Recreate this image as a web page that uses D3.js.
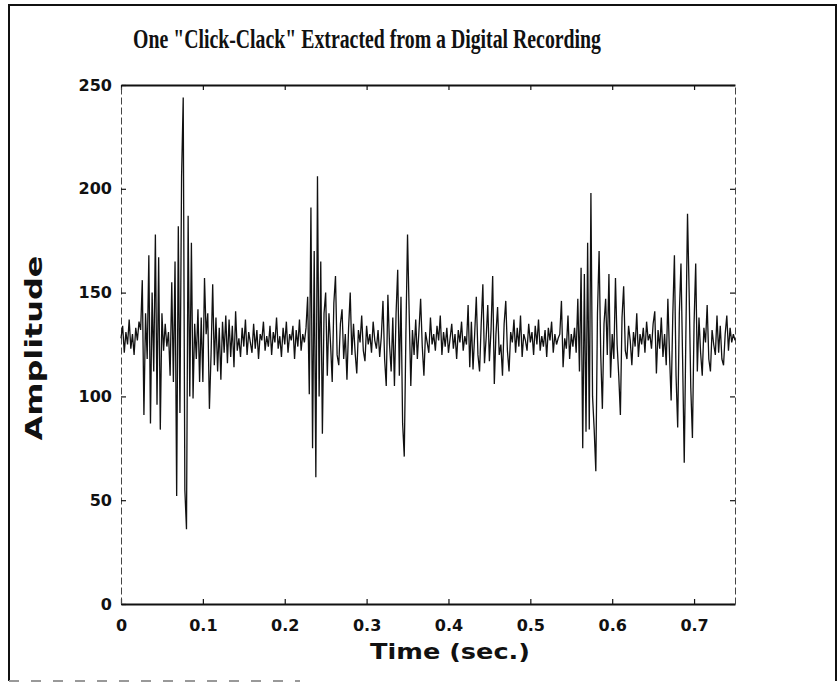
<!DOCTYPE html>
<html>
<head>
<meta charset="utf-8">
<script src="https://cdn.jsdelivr.net/npm/d3@7"></script>
<style>
  body { margin: 0; background: #fff; }
  .tick text { font-family: "DejaVu Sans", sans-serif; font-weight: bold; font-size: 16px; fill: #111; }
</style>
</head>
<body>
<div id="chart"></div>
<script>

// one sample every 2 ms
var sampleStep = 0.002;
var amplitude = [
  128,134,121,131,125,137,123,130,120,133,
  127,136,132,156,91,140,118,168,87,150,
  112,178,96,167,84,140,122,135,124,131,
  110,155,107,165,52,182,92,206,244,55,
  36,187,100,174,99,135,118,142,107,138,
  107,157,130,140,94,120,154,115,138,112,
  133,108,136,121,139,116,137,119,134,114,
  141,122,128,119,133,124,137,120,131,126,
  121,135,123,132,118,130,127,136,122,129,
  124,134,120,131,126,138,123,129,119,133,
  125,136,121,130,127,134,118,132,124,137,
  122,130,126,133,148,101,191,75,170,61,
  206,100,165,82,140,150,110,140,125,107,
  145,158,120,115,135,142,118,130,108,133,
  150,120,135,121,111,132,126,139,122,117,
  134,125,130,121,136,127,123,132,119,129,
  146,118,105,149,125,112,138,105,140,161,
  110,148,87,71,130,178,140,105,132,120,
  137,118,132,147,124,110,131,126,121,138,
  125,130,122,134,127,139,120,131,124,133,
  121,128,135,123,130,118,132,126,136,122,
  129,125,144,114,136,113,130,148,120,112,
  135,154,116,128,144,117,132,158,106,130,
  143,120,125,110,135,146,122,112,131,126,
  137,121,133,124,139,119,130,127,122,135,
  126,131,120,134,125,137,122,129,124,132,
  119,133,127,136,121,130,125,128,130,146,
  114,128,123,139,118,130,124,133,121,147,
  112,162,75,159,83,174,84,198,100,84,
  64,140,170,120,94,135,147,120,159,109,
  130,118,157,125,110,91,138,153,122,118,
  134,127,115,131,124,140,119,130,125,133,
  121,136,127,130,123,135,141,111,132,123,
  138,119,130,115,147,120,98,139,168,110,
  85,140,164,118,68,130,188,150,104,80,
  135,164,112,138,121,110,133,126,144,118,
  112,132,125,120,139,121,134,118,115,130,
  139,122,133,126,130,127
];

var xTicks = [0, 0.1, 0.2, 0.3, 0.4, 0.5, 0.6, 0.7];
var yTicks = [0, 50, 100, 150, 200, 250];

var titleText = 'One "Click-Clack" Extracted from a Digital Recording';
var xLabel = 'Time (sec.)';
var yLabel = 'Amplitude';

var width = 839, height = 683;

var svg = d3.select('#chart').append('svg')
            .attr('width', width)
            .attr('height', height);

// outer frame of the scanned figure
svg.append('path')
   .attr('d', 'M9,681 L9,5 L836,5 L836,681')
   .attr('fill', 'none')
   .attr('stroke', '#111')
   .attr('stroke-width', 2);
svg.append('line')
   .attr('x1', 9).attr('x2', 300).attr('y1', 681).attr('y2', 681)
   .attr('stroke', '#999')
   .attr('stroke-width', 2)
   .attr('stroke-dasharray', '10,12');

var x = d3.scaleLinear().domain([0, 0.75]).range([121, 735]);
var y = d3.scaleLinear().domain([0, 250]).range([604, 85]);

var fmtX = function(d){ return d === 0 ? '0' : d3.format('.1f')(d); };

// axes: ticks point into the plot
var gBottom = svg.append('g').attr('transform', 'translate(0,' + y(0) + ')')
  .call(d3.axisBottom(x).tickValues(xTicks).tickFormat(fmtX).tickSizeInner(-5).tickSizeOuter(0).tickPadding(16));
var gTop = svg.append('g').attr('transform', 'translate(0,' + y(250) + ')')
  .call(d3.axisTop(x).tickValues(xTicks).tickFormat('').tickSizeInner(-5).tickSizeOuter(0));
var gLeft = svg.append('g').attr('transform', 'translate(' + x(0) + ',0)')
  .call(d3.axisLeft(y).tickValues(yTicks).tickSizeInner(-5).tickSizeOuter(0).tickPadding(9));
var gRight = svg.append('g').attr('transform', 'translate(' + x(0.75) + ',0)')
  .call(d3.axisRight(y).tickValues(yTicks).tickFormat('').tickSizeInner(-5).tickSizeOuter(0));

[gBottom, gTop].forEach(function(g){
  g.select('.domain').attr('stroke', '#111').attr('stroke-width', 1.8);
  g.selectAll('.tick line').attr('stroke', '#111').attr('stroke-width', 1.2);
});
[gLeft, gRight].forEach(function(g){
  g.select('.domain').attr('stroke', '#444').attr('stroke-width', 1).attr('stroke-dasharray', '7,3');
  g.selectAll('.tick line').attr('stroke', '#111').attr('stroke-width', 1.2);
});
gBottom.selectAll('.tick text').attr('dy', '0.71em');

// the waveform
var line = d3.line()
  .x(function(d, i){ return x(i * sampleStep); })
  .y(function(d){ return y(d); });

svg.append('path')
   .datum(amplitude)
   .attr('d', line)
   .attr('fill', 'none')
   .attr('stroke', '#111')
   .attr('stroke-width', 1.3)
   .attr('stroke-linejoin', 'miter');

// texts
svg.append('text')
   .attr('x', 133).attr('y', 48)
   .attr('textLength', 468)
   .attr('lengthAdjust', 'spacingAndGlyphs')
   .style('font-family', '"Liberation Serif", serif')
   .style('font-weight', 'bold')
   .style('font-size', '28px')
   .attr('fill', '#111')
   .text(titleText);

svg.append('text')
   .attr('x', 450).attr('y', 659)
   .attr('text-anchor', 'middle')
   .attr('textLength', 160)
   .attr('lengthAdjust', 'spacingAndGlyphs')
   .style('font-family', '"DejaVu Sans", sans-serif')
   .style('font-weight', 'bold')
   .style('font-size', '22px')
   .attr('fill', '#111')
   .text(xLabel);

svg.append('text')
   .attr('transform', 'translate(42,348) rotate(-90)')
   .attr('text-anchor', 'middle')
   .attr('textLength', 185)
   .attr('lengthAdjust', 'spacingAndGlyphs')
   .style('font-family', '"DejaVu Sans", sans-serif')
   .style('font-weight', 'bold')
   .style('font-size', '23px')
   .attr('fill', '#111')
   .text(yLabel);

</script>
</body>
</html>
